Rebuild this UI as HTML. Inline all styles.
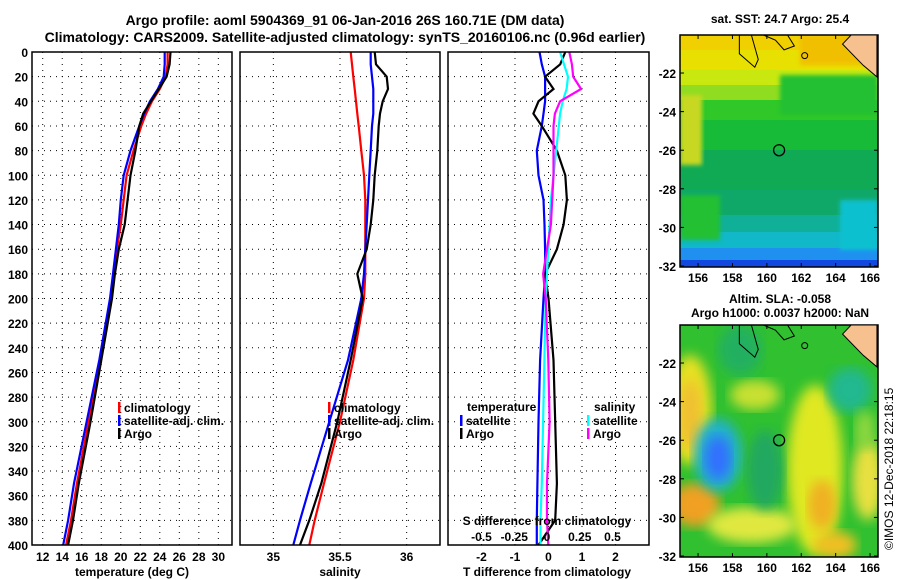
<!DOCTYPE html>
<html><head><meta charset="utf-8"><style>
html,body{margin:0;padding:0;background:#fff;}
svg{display:block;font-family:"Liberation Sans",sans-serif;font-weight:bold;}
text{font-size:12px;fill:#000;}
</style></head><body>
<svg id="chart" width="900" height="580" viewBox="0 0 900 580">
<defs>
<filter id="blur4"><feGaussianBlur stdDeviation="6"/></filter>
<filter id="blur2"><feGaussianBlur stdDeviation="2"/></filter>
<clipPath id="clipTop"><rect x="680" y="35" width="198" height="232"/></clipPath>
<clipPath id="clipBot"><rect x="680" y="325" width="198" height="232"/></clipPath>
</defs>
<text x="345" y="25" text-anchor="middle" style="font-size:14px">Argo profile: aoml 5904369_91 06-Jan-2016 26S 160.71E (DM data)</text>
<text x="345" y="42" text-anchor="middle" style="font-size:14px">Climatology: CARS2009. Satellite-adjusted climatology: synTS_20160106.nc (0.96d earlier)</text>
<g id="panels"></g>
<g id="maps"></g>
<text transform="translate(893,550) rotate(-90)" style="font-size:12px;font-weight:normal">©IMOS 12-Dec-2018 22:18:15</text>
</svg>
<script>
// ---- data (depth in m) ----
const depths      = [0,10,20,30,40,50,60,80,100,120,140,160,180,200,250,300,350,380,400];
const tempClim    = [24.8,24.8,24.6,24.0,23.2,22.6,22.1,21.3,20.6,20.3,20.0,19.6,19.3,19.0,17.9,16.7,15.5,14.9,14.4];
const tempSat     = [24.5,24.5,24.4,23.8,23.0,22.4,21.9,21.0,20.3,20.0,19.8,19.5,19.2,18.9,17.8,16.5,15.2,14.6,14.1];
const tempArgo    = [25.1,25.0,24.7,23.9,23.1,22.3,21.9,21.5,21.0,20.7,20.4,19.8,19.4,19.1,18.0,16.9,15.7,15.1,14.6];
const salClim     = [35.58,35.59,35.60,35.61,35.62,35.63,35.64,35.66,35.68,35.69,35.69,35.69,35.69,35.68,35.60,35.50,35.38,35.31,35.27];
const salSat      = [35.73,35.73,35.74,35.75,35.75,35.75,35.74,35.73,35.72,35.71,35.70,35.69,35.68,35.66,35.56,35.42,35.28,35.20,35.15];
const salArgo     = [35.76,35.77,35.85,35.86,35.82,35.80,35.79,35.78,35.76,35.75,35.73,35.70,35.63,35.67,35.58,35.48,35.36,35.27,35.20];
const dTsat       = [-0.27,-0.2,-0.1,-0.1,-0.1,-0.15,-0.2,-0.35,-0.3,-0.15,-0.12,-0.1,-0.1,-0.15,-0.25,-0.3,-0.33,-0.35,-0.35];
const dTargo      = [0.5,0.35,-0.1,0.15,-0.3,-0.45,-0.2,0.25,0.5,0.55,0.45,0.25,-0.1,0.0,0.15,0.2,0.25,0.2,-0.3];
const dSsat       = [0.1,0.13,0.16,0.15,0.12,0.10,0.09,0.07,0.05,0.03,0.02,0.01,0.0,-0.01,-0.02,-0.03,-0.04,-0.05,-0.05];
const dSargo      = [0.17,0.19,0.20,0.26,0.10,0.06,0.05,0.05,0.05,0.04,0.03,0.0,-0.03,-0.01,0.01,0.02,0.0,0.0,0.01];
const depthTicks  = [0,20,40,60,80,100,120,140,160,180,200,220,240,260,280,300,320,340,360,380,400];
const tempTicks   = [12,14,16,18,20,22,24,26,28,30];
const salTicks    = [35,35.5,36];
const dTTicks     = [-2,-1,0,1,2];
const dSTicks     = [-0.5,-0.25,0,0.25,0.5];
const latTicks    = [-22,-24,-26,-28,-30,-32];
const lonTicks    = [156,158,160,162,164,166];

const NS='http://www.w3.org/2000/svg';
function mk(tag,attrs,parent){const e=document.createElementNS(NS,tag);for(const k in attrs)e.setAttribute(k,attrs[k]);parent.appendChild(e);return e;}
const P=document.getElementById('panels');
const Y0=52,Y1=545;
const yD=d=>Y0+(d-0)/400*(Y1-Y0);

function panel(name,x0,x1,dom){
  const g=mk('g',{},P);
  
  
  const sx=v=>x0+(v-dom[0])/(dom[1]-dom[0])*(x1-x0);
  return {g,sx};
}
function grid(p,x0,x1,xt,sx){
  depthTicks.forEach(d=>{const l=mk('line',{x1:x0,x2:x1,y1:yD(d),y2:yD(d),stroke:'#000','stroke-dasharray':'1,5','stroke-width':1},p.g);
  });
  xt.forEach(v=>{const l=mk('line',{x1:sx(v),x2:sx(v),y1:Y0,y2:Y1,stroke:'#000','stroke-dasharray':'1,5','stroke-width':1},p.g);
  });
}
function frame(p,x0,x1){const r=mk('rect',{x:x0,y:Y0,width:x1-x0,height:Y1-Y0,fill:'none',stroke:'#000','stroke-width':1.5},p.g);
}
function line(p,vals,sx,color,name){
  const pts=vals.map((v,i)=>sx(v).toFixed(1)+','+yD(depths[i]).toFixed(1)).join(' ');
  const l=mk('polyline',{points:pts,fill:'none',stroke:color,'stroke-width':2.2},p.g);
  
}
function txt(p,x,y,s,anchor,name,size){const t=mk('text',{x:x,y:y,'text-anchor':anchor||'middle'},p.g);if(size)t.style.fontSize=size+'px';t.textContent=s;
return t;}
function legend(p,x,y,color,label,name){
  const m=mk('rect',{x:x,y:y-10,width:2.5,height:11,fill:color},p.g);
  
  txt(p,x+6,y,label,'start',name);
}

// Panel 1: temperature
const p1=panel('temperature-panel',32,232,[10.9,31.4]);
grid(p1,32,232,tempTicks,p1.sx);
line(p1,tempClim,p1.sx,'#ff0000','temp-climatology-line');
line(p1,tempSat,p1.sx,'#0000ff','temp-satellite-line');
line(p1,tempArgo,p1.sx,'#000000','temp-argo-line');
frame(p1,32,232);
depthTicks.forEach(d=>txt(p1,28,yD(d)+5,String(d),'end','depth-tick-label'));
tempTicks.forEach(v=>txt(p1,p1.sx(v),561,String(v),'middle','temp-tick-label'));
txt(p1,132,576,'temperature (deg C)','middle','temp-axis-title');
legend(p1,118,412,'#ff0000','climatology','legend-climatology');
legend(p1,118,425,'#0000ff','satellite-adj. clim.','legend-satellite');
legend(p1,118,438,'#000000','Argo','legend-argo');

// Panel 2: salinity
const p2=panel('salinity-panel',240,440,[34.75,36.25]);
grid(p2,240,440,salTicks,p2.sx);
line(p2,salClim,p2.sx,'#ff0000','sal-climatology-line');
line(p2,salSat,p2.sx,'#0000ff','sal-satellite-line');
line(p2,salArgo,p2.sx,'#000000','sal-argo-line');
frame(p2,240,440);
salTicks.forEach(v=>txt(p2,p2.sx(v),561,String(v),'middle','sal-tick-label'));
txt(p2,340,576,'salinity','middle','sal-axis-title');
legend(p2,328,412,'#ff0000','climatology','legend-climatology-2');
legend(p2,328,425,'#0000ff','satellite-adj. clim.','legend-satellite-2');
legend(p2,328,438,'#000000','Argo','legend-argo-2');

// Panel 3: differences
const p3=panel('difference-panel',448,649,[-3,3]);
const sxS=v=>547+v*131;
grid(p3,448,649,dTTicks,p3.sx);
line(p3,dTsat,p3.sx,'#0000ff','dT-satellite-line');
line(p3,dTargo,p3.sx,'#000000','dT-argo-line');
line(p3,dSsat,sxS,'#00ffff','dS-satellite-line');
line(p3,dSargo,sxS,'#ff00ff','dS-argo-line');
frame(p3,448,649);
dTTicks.forEach(v=>txt(p3,p3.sx(v),561,String(v),'middle','dT-tick-label'));
txt(p3,547,576,'T difference from climatology','middle','dT-axis-title');
dSTicks.forEach(v=>txt(p3,sxS(v),541,String(v),'middle','dS-tick-label'));
txt(p3,547,525,'S difference from climatology','middle','dS-axis-title');
txt(p3,467,411,'temperature','start','legend-temperature-header');
legend(p3,460,425,'#0000ff','satellite','legend-dT-satellite');
legend(p3,460,438,'#000000','Argo','legend-dT-argo');
txt(p3,594,411,'salinity','start','legend-salinity-header');
legend(p3,587,425,'#00ffff','satellite','legend-dS-satellite');
legend(p3,587,438,'#ff00ff','Argo','legend-dS-argo');

// ---- maps ----
const M=document.getElementById('maps');
const lonX=l=>680+(l-154.95)*17.2;
function mapAxes(top,bot,name){
  const latY=l=>top+( -20.03 - l)*19.3*((bot-top)/232);
  const g=mk('g',{},M);
  
  mk('rect',{x:680,y:top,width:198,height:bot-top,fill:'none',stroke:'#000','stroke-width':1.5},g);
  latTicks.forEach(l=>{const y=latY(l);mk('line',{x1:680,x2:684,y1:y,y2:y,stroke:'#000'},g);mk('line',{x1:874,x2:878,y1:y,y2:y,stroke:'#000'},g);
    const t=mk('text',{x:676,y:y+5,'text-anchor':'end'},g);t.textContent=String(l);});
  lonTicks.forEach(l=>{const x=lonX(l);mk('line',{x1:x,x2:x,y1:bot,y2:bot-4,stroke:'#000'},g);mk('line',{x1:x,x2:x,y1:top,y2:top+4,stroke:'#000'},g);
    const t=mk('text',{x:x,y:bot+15,'text-anchor':'middle'},g);t.textContent=String(l);});
  const nc=mk('polygon',{points:[[lonX(164.9),top],[lonX(166.4),top],[lonX(166.4),latY(-22.2)],[lonX(165.6),latY(-21.6)],[lonX(164.4),latY(-20.5)]].map(p=>p.join(',')).join(' '),fill:'#f7c08f',stroke:'#000','stroke-width':1},g);
  
  mk('polyline',{points:[[lonX(158.4),top],[lonX(158.4),latY(-21)],[lonX(159.3),latY(-21.7)],[lonX(159.5),latY(-21.3)],[lonX(159.1),top]].map(p=>p.join(',')).join(' '),fill:'none',stroke:'#000','stroke-width':1},g);
  mk('polyline',{points:[[lonX(159.8),top],[lonX(160.5),latY(-20.3)],[lonX(161.0),latY(-20.8)],[lonX(161.6),latY(-20.6)],[lonX(161.2),top]].map(p=>p.join(',')).join(' '),fill:'none',stroke:'#000','stroke-width':1},g);
  mk('circle',{cx:lonX(162.2),cy:latY(-21.1),r:3,fill:'none',stroke:'#000'},g);
  const c=mk('circle',{cx:lonX(160.71),cy:latY(-26),r:5.5,fill:'none',stroke:'#000','stroke-width':1.3},g);
  
}
// top SST map
const gT=mk('g',{'clip-path':'url(#clipTop)'},M);

const sstBands=[[35,'#f0d000'],[50,'#e8e000'],[70,'#c8e810'],[85,'#90dc20'],[100,'#30c828'],[120,'#18bb38'],[150,'#10aa55'],[190,'#10a868'],[215,'#10b098'],[232,'#10b8c8'],[248,'#2090f0'],[260,'#1048e0']];
for(let i=0;i<sstBands.length;i++){const y=sstBands[i][0],h=(i<sstBands.length-1?sstBands[i+1][0]:270)-y;
  mk('rect',{x:680,y:y,width:198,height:h+1,fill:sstBands[i][1]},gT);}
mk('rect',{x:800,y:35,width:78,height:30,fill:'#f0c000',filter:'url(#blur2)'},gT);
mk('rect',{x:780,y:75,width:98,height:40,fill:'#20c030',filter:'url(#blur2)'},gT);
mk('rect',{x:680,y:95,width:22,height:70,fill:'#c8d820',filter:'url(#blur2)'},gT);
mk('rect',{x:680,y:195,width:40,height:45,fill:'#20c030',filter:'url(#blur2)'},gT);
mk('rect',{x:840,y:200,width:38,height:50,fill:'#10c0d0',filter:'url(#blur2)'},gT);
mk('text',{x:780,y:23,'text-anchor':'middle'},M).textContent='sat. SST: 24.7 Argo: 25.4';
mapAxes(35,267,'sst-map');
// bottom SLA map
const gB=mk('g',{'clip-path':'url(#clipBot)'},M);

mk('rect',{x:680,y:325,width:198,height:232,fill:'#30c030'},gB);
const blobs=[[690,410,22,55,'#e8e020'],[690,415,12,35,'#f0c030'],[695,505,25,22,'#f0a020'],[718,455,24,36,'#20b0d0'],[718,458,13,22,'#3070ff'],[815,470,28,85,'#e0e820'],[822,505,14,25,'#f0b020'],[752,525,45,18,'#e0e840'],[868,480,16,40,'#e8e040'],[850,390,22,22,'#20b890'],[755,395,25,15,'#c8e030'],[835,545,22,14,'#f0c020'],[740,350,22,25,'#20b060'],[765,470,18,40,'#20a860'],[865,430,10,20,'#90d840']];
blobs.forEach(b=>mk('ellipse',{cx:b[0],cy:b[1],rx:b[2],ry:b[3],fill:b[4],filter:'url(#blur4)'},gB));
const t1=mk('text',{x:780,y:303,'text-anchor':'middle'},M);t1.textContent='Altim. SLA: -0.058';
const t2=mk('text',{x:780,y:317,'text-anchor':'middle'},M);t2.textContent='Argo h1000: 0.0037 h2000: NaN';
mapAxes(325,557,'sla-map');
</script>
</body></html>
